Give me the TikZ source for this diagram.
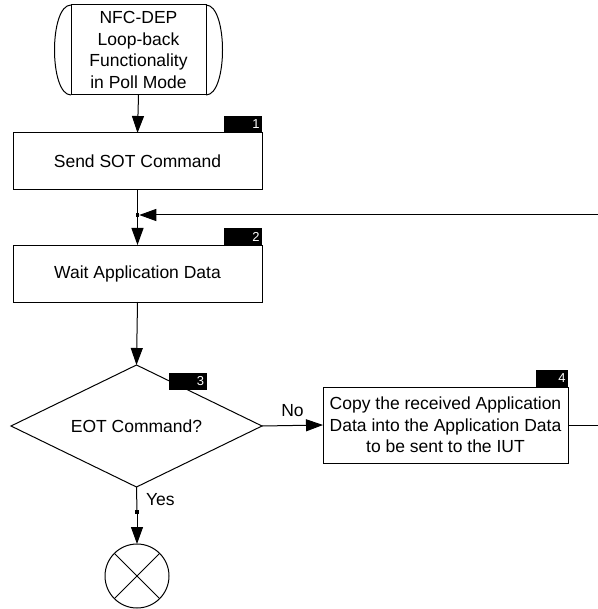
\documentclass[tikz,border=0pt]{standalone}
\usepackage{fontspec}
\setmainfont{Liberation Sans}
\usetikzlibrary{shapes.geometric,arrows.meta,calc}
\begin{document}
\begin{tikzpicture}[x=1pt,y=-1pt,
  every node/.style={inner sep=0pt, outer sep=0pt},
  txt/.style={font=\fontsize{17.5}{21.6}\selectfont, align=center},
  procbox/.style={txt, draw, line width=1pt, rectangle},
  tag/.style={fill=black, text=white, font=\fontsize{13}{13}\selectfont,
    minimum width=38pt, minimum height=17pt, align=right, text width=33pt},
  flow/.style={line width=1pt, -{Triangle[length=17pt,width=12pt]}},
  plain/.style={line width=1pt},
  jdot/.style={fill=black, minimum size=3.5pt, rectangle}
]
\useasboundingbox (0,0) rectangle (597,609);

% start terminal
\node[procbox, minimum width=135pt, minimum height=90pt] (term) at (138.5,50)
  {NFC-DEP\\Loop-back\\Functionality\\in Poll Mode};
\draw[plain] (term.north west) .. controls ([xshift=-22pt]term.north west)
  and ([xshift=-22pt]term.south west) .. (term.south west);
\draw[plain] (term.north east) .. controls ([xshift=22pt]term.north east)
  and ([xshift=22pt]term.south east) .. (term.south east);

% process steps
\node[procbox, minimum width=249pt, minimum height=57pt] (box1) at (137.5,161.5) {Send SOT Command};
\node[tag, anchor=south east] (tag1) at (box1.north east) {1};

\node[procbox, minimum width=249pt, minimum height=57pt] (box2) at (137.5,273.5) {Wait Application Data};
\node[tag, anchor=south east] (tag2) at (box2.north east) {2};

\node[txt, draw, line width=1pt, diamond, aspect=2.06, minimum width=251pt, minimum height=122pt]
  (dia) at (136.5,426) {EOT Command?};
\node[tag, anchor=south east] (tag3) at ($(dia.center)+(70,-36)$) {3};

\node[procbox, minimum width=245pt, minimum height=76pt] (box4) at (445.5,425)
  {Copy the received Application\\Data into the Application Data\\to be sent to the IUT};
\node[tag, anchor=south east, minimum width=32pt, text width=27pt] (tag4) at (box4.north east) {4};

% end connector
\node[draw, circle, line width=1pt, minimum size=64pt] (endc) at (137,576) {};
\draw[plain] (endc.north west) -- (endc.south east);
\draw[plain] (endc.north east) -- (endc.south west);

% junction points
\node[jdot] (jn) at (137.5,215) {};
\node[jdot] (yd) at (137,512) {};
\coordinate (loopR) at (603,425);

% connectors
\draw[flow] (term.south) -- (box1.north);
\draw[plain] (box1.south) -- (jn.center);
\draw[flow] (jn.center) -- (box2.north);
\draw[flow] (box2.south) -- (dia.north);
\draw[flow] (dia.east) -- node[txt, above=9pt] (nolab) {No} (box4.west);
\draw[plain] (box4.east) -- (loopR);
\draw[flow] (loopR) |- (jn.east);
\draw[plain] (dia.south) -- (yd.center);
\draw[flow] (yd.center) -- (endc.north);
\node[txt, anchor=west] (yeslab) at (146,500) {Yes};
\end{tikzpicture}
\end{document}
